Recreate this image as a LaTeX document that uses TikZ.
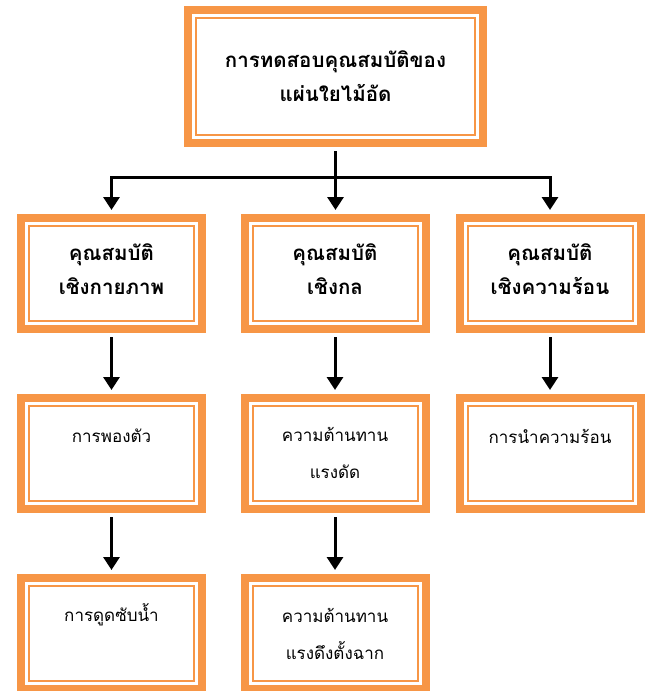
\documentclass[tikz,border=0pt]{standalone}
\usepackage{fontspec}
\newfontfamily\thai[Script=Thai]{Loma}
\usetikzlibrary{arrows.meta}
\definecolor{boxorange}{HTML}{F79646}
\begin{document}
\begin{tikzpicture}[x=1pt,y=-1pt,
  box/.style={rectangle, fill=white, draw=boxorange, line width=8pt,
    minimum width=181pt, minimum height=111pt, inner sep=0pt,
    path picture={\draw[boxorange, line width=2pt]
      ([xshift=8pt,yshift=-8pt]path picture bounding box.north west) rectangle
      ([xshift=-8pt,yshift=8pt]path picture bounding box.south east);}},
  topbox/.style={box, minimum width=295pt, minimum height=133pt},
  lbl/.style={font=\thai\fontsize{17}{37}\selectfont, align=center, anchor=base, inner sep=0pt},
  blbl/.style={lbl, font=\thai\bfseries\fontsize{20.5}{34}\selectfont},
  conn/.style={line width=3pt, black},
  arr/.style={conn, -{Triangle[width=16pt,length=13pt]}, shorten >=4pt}
]
\useasboundingbox (0,0) rectangle (650,691);

\node[topbox] (top) at (335.5,76.5) {};
\node[box] (p1) at (111.5,273.5) {};
\node[box] (p2) at (335,273.5) {};
\node[box] (p3) at (550,273.5) {};
\node[box] (a1) at (111.5,453.5) {};
\node[box] (a2) at (335,453.5) {};
\node[box] (a3) at (550,453.5) {};
\node[box] (b1) at (111.5,633.5) {};
\node[box] (b2) at (335,633.5) {};

\node[blbl] (ttop) at (335.5,101) {การทดสอบคุณสมบัติของ\\แผ่นใยไม้อัด};
\node[blbl] (tp1) at (111.5,294) {คุณสมบัติ\\เชิงกายภาพ};
\node[blbl] (tp2) at (335,294) {คุณสมบัติ\\เชิงกล};
\node[blbl] (tp3) at (550,294) {คุณสมบัติ\\เชิงความร้อน};
\node[lbl] (ta1) at (111.5,442) {การพองตัว};
\node[lbl] (ta2) at (335,478) {ความต้านทาน\\แรงดัด};
\node[lbl] (ta3) at (550,443) {การนำความร้อน};
\node[lbl] (tb1) at (111.5,621) {การดูดซับน้ำ};
\node[lbl] (tb2) at (335,659) {ความต้านทาน\\แรงดึงตั้งฉาก};

\coordinate (bus) at (336,177);
\draw[conn, shorten <=4pt] (top.south) -- (top.south |- bus);
\draw[arr] (top.south |- bus) -| (p1.north);
\draw[arr] (top.south |- bus) -| (p3.north);
\draw[arr] (top.south |- bus) -- (p2.north -| top.south);

\draw[arr, shorten <=4pt] (p1.south) -- (a1.north);
\draw[arr, shorten <=4pt] (p2.south) -- (a2.north);
\draw[arr, shorten <=4pt] (p3.south) -- (a3.north);
\draw[arr, shorten <=4pt] (a1.south) -- (b1.north);
\draw[arr, shorten <=4pt] (a2.south) -- (b2.north);
\end{tikzpicture}
\end{document}
